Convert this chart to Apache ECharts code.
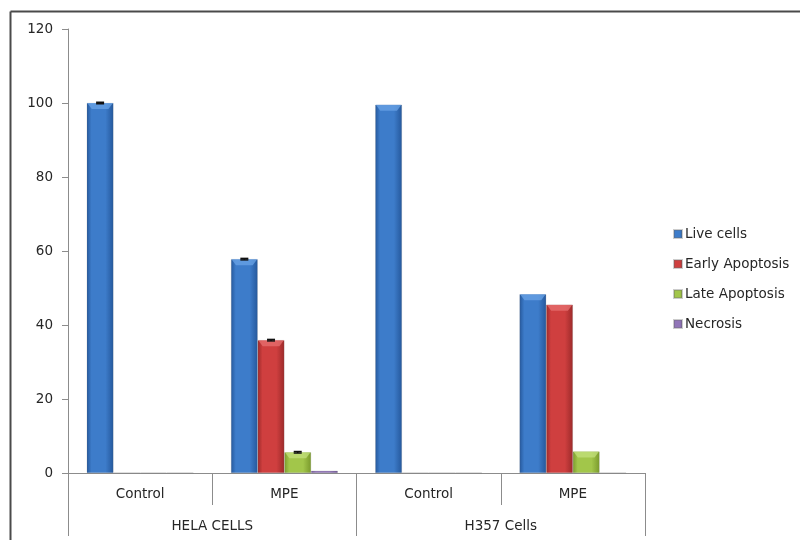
<!DOCTYPE html>
<html>
<head>
<meta charset="utf-8">
<title>Cell viability</title>
<script src="https://cdn.jsdelivr.net/npm/echarts@6/dist/echarts.min.js"></script>
<style>
  html, body { margin: 0; padding: 0; background: #fff; overflow: hidden; }
  #chart { width: 806px; height: 540px; }
</style>
</head>
<body>
<div id="chart"></div>
<script>
// Treatment conditions (inner axis) and cell lines (outer axis)
const conditions = ['Control', 'MPE', 'Control', 'MPE'];
const cellLines = ['HELA CELLS', 'H357 Cells'];
const seriesNames = ['Live cells', 'Early Apoptosis', 'Late Apoptosis', 'Necrosis'];

// Percentage of cells in each state
const liveCells = [100, 57.8, 99.5, 48.3];
const earlyApoptosis = [0.1, 35.9, 0.1, 45.5];
const lateApoptosis = [0.1, 5.6, 0.1, 5.8];
const necrosis = [0.1, 0.6, 0.1, 0.1];

// Standard error (HELA measurements only)
const liveErr = [0.2, 0.2, null, null];
const earlyErr = [null, 0.2, null, null];
const lateErr = [null, 0.2, null, null];
const necrosisErr = [null, null, null, null];

const y_ticks = [0, 20, 40, 60, 80, 100, 120];

const palette = [
  { edge: '#25589c', mid: '#3d7cca', top: '#6aa3e6' },
  { edge: '#9c2a2a', mid: '#cf3f3f', top: '#e77070' },
  { edge: '#7a9a2c', mid: '#a2c64a', top: '#c3e07c' },
  { edge: '#6e5494', mid: '#9175b8', top: '#b49ad6' }
];

function cylinder(p) {
  return new echarts.graphic.LinearGradient(0, 0, 1, 0, [
    { offset: 0, color: p.edge },
    { offset: 0.18, color: p.mid },
    { offset: 0.7, color: p.mid },
    { offset: 1, color: p.edge }
  ]);
}

const values = [liveCells, earlyApoptosis, lateApoptosis, necrosis];
const errors = [liveErr, earlyErr, lateErr, necrosisErr];
const CAT_GAP = 0.26;

const barSeries = values.map((vals, i) => ({
  name: seriesNames[i],
  type: 'bar',
  data: vals,
  barGap: '0%',
  barCategoryGap: (CAT_GAP * 100) + '%',
  itemStyle: {
    color: cylinder(palette[i]),
    borderColor: 'rgba(110,110,110,0.35)',
    borderWidth: 0.5
  },
  emphasis: { disabled: true }
}));

// Bar x-position inside a category, shared by the overlay series
function barGeom(api, c, v, s) {
  const catW = api.size([1, 0])[0];
  const barW = catW * (1 - CAT_GAP) / 4;
  const center = api.coord([c, v]);
  return { x: center[0] + (s - 1.5) * barW, y: center[1], w: barW };
}

// Light bevel on top of each bar
const bevelData = [];
values.forEach((vals, s) => {
  vals.forEach((v, c) => {
    if (v > 2) bevelData.push([c, v, s]);
  });
});

const bevelSeries = {
  type: 'custom',
  name: 'bevel',
  data: bevelData,
  z: 5,
  silent: true,
  renderItem: function (params, api) {
    const g = barGeom(api, api.value(0), api.value(1), api.value(2));
    const p = palette[api.value(2)];
    const l = g.x - g.w / 2, r = g.x + g.w / 2, t = g.y;
    return {
      type: 'polygon',
      shape: { points: [[l + 0.5, t], [r - 0.5, t], [r - 5, t + 6], [l + 5, t + 6]] },
      style: { fill: p.top, opacity: 0.75 }
    };
  }
};

// Error caps sit centred on each bar top
const errData = [];
errors.forEach((errs, s) => {
  errs.forEach((e, c) => {
    if (e != null) errData.push([c, values[s][c], e, s]);
  });
});

const errorSeries = {
  type: 'custom',
  name: 'err',
  data: errData,
  z: 10,
  silent: true,
  renderItem: function (params, api) {
    const c = api.value(0), v = api.value(1), e = api.value(2), s = api.value(3);
    const g = barGeom(api, c, v, s);
    const hi = api.coord([c, v + e])[1];
    const lo = api.coord([c, v - e])[1];
    const half = 4;
    const style = { stroke: '#111', lineWidth: 1.5 };
    return {
      type: 'group',
      children: [
        { type: 'line', shape: { x1: g.x, y1: hi, x2: g.x, y2: lo }, style: style },
        { type: 'line', shape: { x1: g.x - half, y1: hi, x2: g.x + half, y2: hi }, style: style },
        { type: 'line', shape: { x1: g.x - half, y1: lo, x2: g.x + half, y2: lo }, style: style }
      ]
    };
  }
};

const axisGray = '#8c8c8c';
const textStyle = { fontFamily: 'DejaVu Sans', fontSize: 13.5, color: '#262626' };

const chart = echarts.init(document.getElementById('chart'), null, { renderer: 'canvas' });
chart.setOption({
  animation: false,
  backgroundColor: '#fff',
  textStyle: textStyle,
  grid: { left: 68, right: 161, top: 29, bottom: 67, containLabel: false },
  legend: {
    data: seriesNames,
    orient: 'vertical',
    left: 668,
    top: 222,
    itemWidth: 8,
    itemHeight: 8,
    itemGap: 16,
    icon: 'rect',
    textStyle: Object.assign({}, textStyle, { padding: [0, 0, 0, -2] })
  },
  xAxis: [
    {
      type: 'category',
      data: conditions,
      position: 'bottom',
      axisLine: { show: true, lineStyle: { color: axisGray, width: 1 } },
      axisTick: { show: true, interval: 0, length: 32, lineStyle: { color: axisGray } },
      axisLabel: Object.assign({ margin: 14, interval: 0 }, textStyle),
      splitLine: { show: false }
    },
    {
      type: 'category',
      data: cellLines,
      position: 'bottom',
      gridIndex: 0,
      axisLine: { show: false },
      axisTick: { show: true, interval: 0, length: 63, lineStyle: { color: axisGray } },
      axisLabel: Object.assign({ margin: 46, interval: 0 }, textStyle),
      splitLine: { show: false }
    }
  ],
  yAxis: {
    type: 'value',
    min: y_ticks[0],
    max: y_ticks[y_ticks.length - 1],
    interval: y_ticks[1] - y_ticks[0],
    axisLine: { show: true, lineStyle: { color: axisGray, width: 1 } },
    axisTick: { show: true, length: 6, lineStyle: { color: axisGray } },
    axisLabel: Object.assign({ margin: 15 }, textStyle),
    splitLine: { show: false }
  },
  graphic: [
    {
      type: 'line',
      silent: true,
      shape: { x1: 10.5, y1: 11.5, x2: 800, y2: 11.5 },
      style: { stroke: '#4a4a4a', lineWidth: 2 }
    },
    {
      type: 'line',
      silent: true,
      shape: { x1: 10.5, y1: 11.5, x2: 10.5, y2: 540 },
      style: { stroke: '#4a4a4a', lineWidth: 2 }
    }
  ],
  series: barSeries.concat([bevelSeries, errorSeries])
});
</script>
</body>
</html>
